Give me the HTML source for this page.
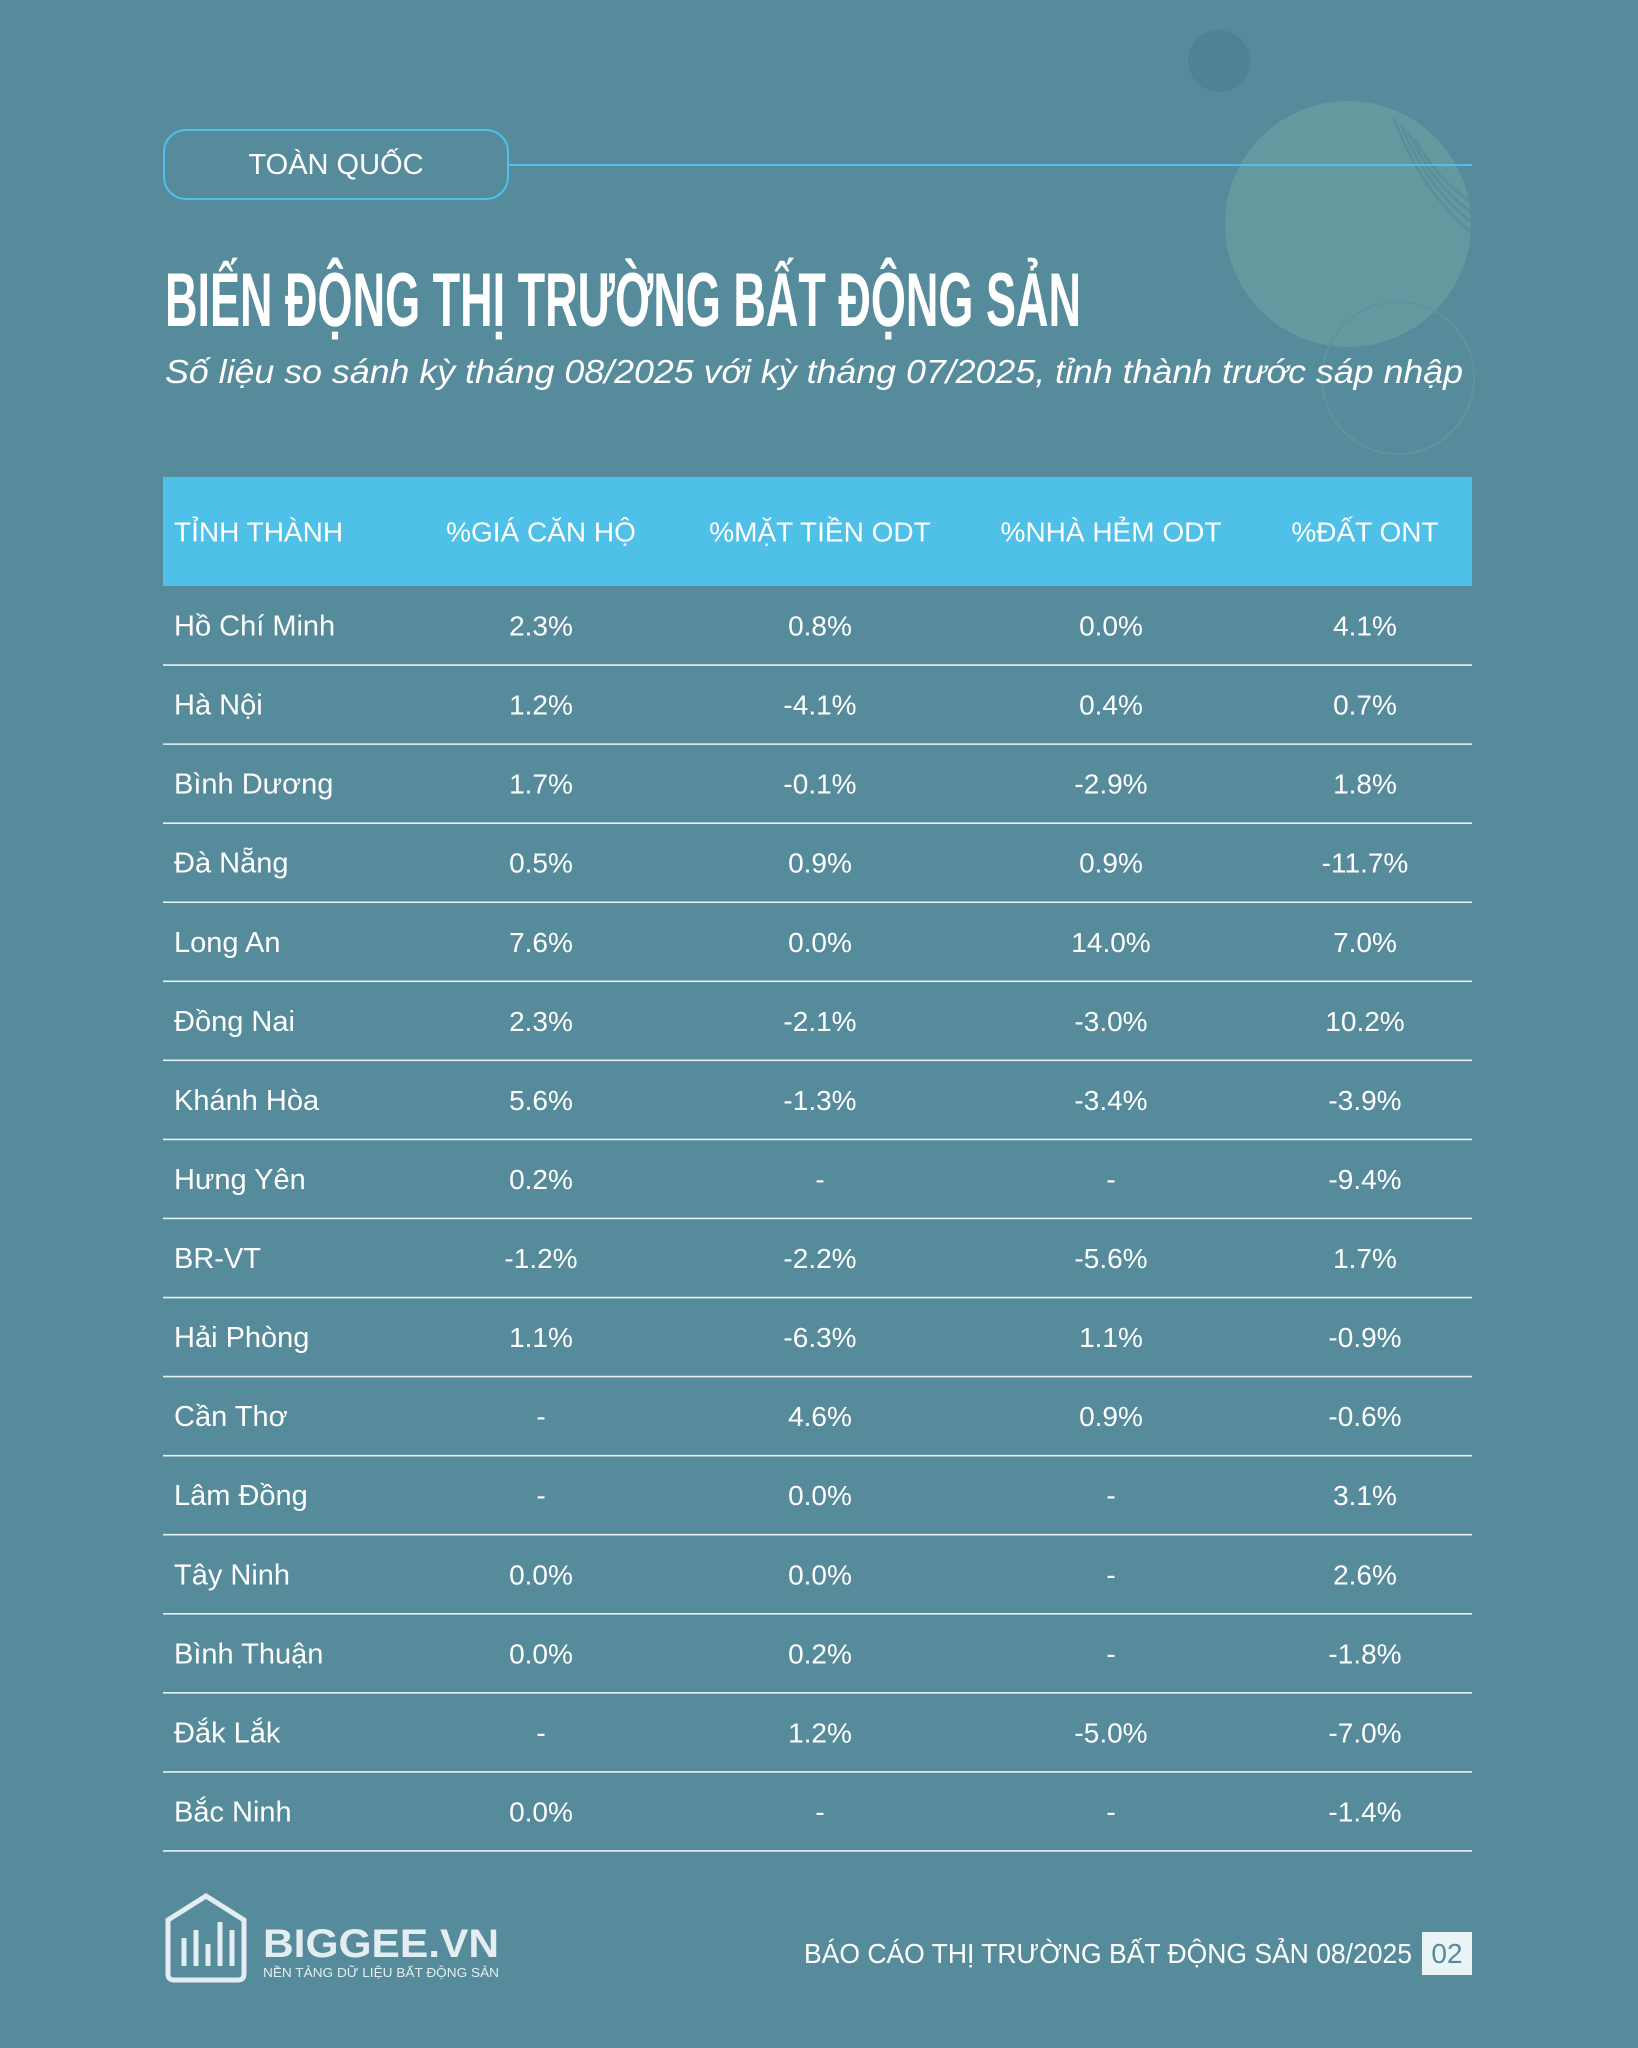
<!DOCTYPE html>
<html><head><meta charset="utf-8">
<style>
html,body{margin:0;padding:0}
body{width:1638px;height:2048px;background:#568b9c;position:relative;overflow:hidden;font-family:"Liberation Sans","DejaVu Sans",sans-serif;color:#fff}
.abs{position:absolute}
</style></head><body>
<svg class="abs" style="left:0;top:0" width="1638" height="2048">
  <circle cx="1219" cy="61" r="31" fill="#4f8294"/>
  <circle cx="1348" cy="224" r="123" fill="#64999f"/>
  <g fill="none" stroke="#5a8e9a" stroke-width="2.5">
    <path d="M1394 118 Q1420 190 1471 232"/>
    <path d="M1401 124 Q1425 186 1471 222"/>
    <path d="M1408 131 Q1430 182 1471 212"/>
    <path d="M1415 139 Q1435 178 1471 202"/>
  </g>
  <circle cx="1398" cy="378" r="76" fill="none" stroke="#5f93a0" stroke-width="2"/>
  <line x1="508" y1="165" x2="1472" y2="165" stroke="#4fc0e8" stroke-width="2"/>
  <rect x="164" y="130" width="344" height="69" rx="22" fill="none" stroke="#4fc0e8" stroke-width="2"/>
  <text x="336" y="174" text-anchor="middle" font-family="Liberation Sans, sans-serif" font-size="29" fill="#fff">TOÀN QUỐC</text>
  <text x="165" y="326" font-family="Liberation Sans Narrow, Liberation Sans, sans-serif" font-weight="bold" font-size="76" fill="#fff" textLength="916" lengthAdjust="spacingAndGlyphs">BIẾN ĐỘNG THỊ TRƯỜNG BẤT ĐỘNG SẢN</text>
  <text x="165" y="383" font-family="Liberation Sans, sans-serif" font-style="italic" font-size="33" fill="#fff" textLength="1298" lengthAdjust="spacingAndGlyphs">Số liệu so sánh kỳ tháng 08/2025 với kỳ tháng 07/2025, tỉnh thành trước sáp nhập</text>
</svg>

<svg class="abs" id="tbl" style="left:0;top:0" width="1638" height="2048"></svg>

<svg class="abs" style="left:0;top:0" width="1638" height="2048">
  <g fill="none" stroke="#e4eef2" stroke-width="5">
    <path d="M168 1920 L206 1896 L244 1920 L244 1974 Q244 1980 238 1980 L174 1980 Q168 1980 168 1974 Z"/>
    <line x1="184" y1="1938" x2="184" y2="1966"/>
    <line x1="196" y1="1930" x2="196" y2="1966"/>
    <line x1="208" y1="1944" x2="208" y2="1966"/>
    <line x1="220" y1="1922" x2="220" y2="1966"/>
    <line x1="232" y1="1930" x2="232" y2="1966"/>
  </g>
  <text x="263" y="1957" font-family="Liberation Sans, sans-serif" font-weight="bold" font-size="40" fill="#e4eef2" textLength="236" lengthAdjust="spacingAndGlyphs">BIGGEE.VN</text>
  <text x="263" y="1977" font-family="Liberation Sans Narrow, Liberation Sans, sans-serif" font-size="13" fill="#e4eef2" textLength="236" lengthAdjust="spacingAndGlyphs">NỀN TẢNG DỮ LIỆU BẤT ĐỘNG SẢN</text>
  <text x="804" y="1963" font-family="Liberation Sans Narrow, Liberation Sans, sans-serif" font-size="28" fill="#fff" textLength="608" lengthAdjust="spacingAndGlyphs">BÁO CÁO THỊ TRƯỜNG BẤT ĐỘNG SẢN 08/2025</text>
  <rect x="1422" y="1932" width="50" height="43" fill="#eaf4f7"/>
  <text x="1447" y="1963" text-anchor="middle" font-family="Liberation Sans Narrow, Liberation Sans, sans-serif" font-size="28" fill="#568b9c">02</text>
</svg>

<script>
const headers = ["TỈNH THÀNH","%GIÁ CĂN HỘ","%MẶT TIỀN ODT","%NHÀ HẺM ODT","%ĐẤT ONT"];
const provinces = ["Hồ Chí Minh","Hà Nội","Bình Dương","Đà Nẵng","Long An","Đồng Nai","Khánh Hòa","Hưng Yên","BR-VT","Hải Phòng","Cần Thơ","Lâm Đồng","Tây Ninh","Bình Thuận","Đắk Lắk","Bắc Ninh"];
const giaCanHo = ["2.3%","1.2%","1.7%","0.5%","7.6%","2.3%","5.6%","0.2%","-1.2%","1.1%","-","-","0.0%","0.0%","-","0.0%"];
const matTien = ["0.8%","-4.1%","-0.1%","0.9%","0.0%","-2.1%","-1.3%","-","-2.2%","-6.3%","4.6%","0.0%","0.0%","0.2%","1.2%","-"];
const nhaHem = ["0.0%","0.4%","-2.9%","0.9%","14.0%","-3.0%","-3.4%","-","-5.6%","1.1%","0.9%","-","-","-","-5.0%","-"];
const datOnt = ["4.1%","0.7%","1.8%","-11.7%","7.0%","10.2%","-3.9%","-9.4%","1.7%","-0.9%","-0.6%","3.1%","2.6%","-1.8%","-7.0%","-1.4%"];

const NS="http://www.w3.org/2000/svg";
const svg=document.getElementById('tbl');
const left=163,right=1472,headTop=477,headH=109,rowH=79.06;
const colX=[174,541,820,1111,1365];
const cols=[giaCanHo,matTien,nhaHem,datOnt];
function mk(tag,attrs){const e=document.createElementNS(NS,tag);for(const k in attrs)e.setAttribute(k,attrs[k]);svg.appendChild(e);return e;}
const hb=mk('rect',{x:left,y:headTop,width:right-left,height:headH,fill:'#4fc0e8'});


headers.forEach((h,i)=>{
  const t=mk('text',{x:colX[i],y:headTop+headH/2+10,'font-size':28,fill:'#fff','text-anchor':i===0?'start':'middle','font-family':'Liberation Sans, sans-serif'});
  t.textContent=h;
  
  
});
provinces.forEach((p,r)=>{
  const y0=headTop+headH+r*rowH;
  const cy=y0+rowH/2+10;
  const t=mk('text',{x:colX[0],y:cy,'font-size':29,fill:'#fff','font-family':'Liberation Sans, sans-serif'});
  t.textContent=p;
  
  
  cols.forEach((c,i)=>{
    const v=mk('text',{x:colX[i+1],y:cy,'font-size':28,fill:'#fff','text-anchor':'middle','font-family':'Liberation Sans, sans-serif'});
    v.textContent=c[r];
    
    
  });
  const l=mk('line',{x1:left,x2:right,y1:y0+rowH,y2:y0+rowH,stroke:'#e8f1f4','stroke-width':1.6});
  
  
});
</script>
</body></html>
